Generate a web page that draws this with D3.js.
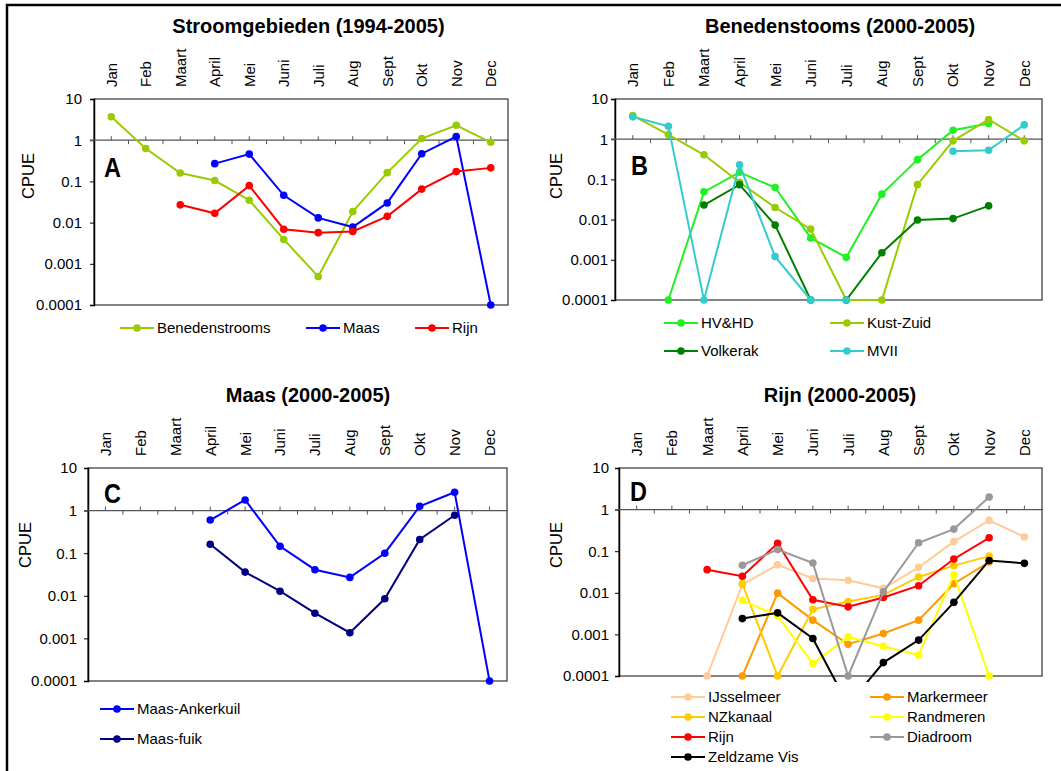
<!DOCTYPE html>
<html>
<head>
<meta charset="utf-8">
<script src="https://cdn.jsdelivr.net/npm/d3@7"></script>
<style>
  html, body { margin: 0; padding: 0; background: #fff; }
  svg { display: block; }
  text { font-family: "Liberation Sans", Arial, sans-serif; fill: #000; }
</style>
</head>
<body>
<svg id="chart" width="1061" height="771"></svg>
<script>
// ---------------- DATA ----------------
const months = ["Jan","Feb","Maart","April","Mei","Juni","Juli","Aug","Sept","Okt","Nov","Dec"];
const yTickValues = [0.0001, 0.001, 0.01, 0.1, 1, 10];
const yTickLabels = ["0.0001", "0.001", "0.01", "0.1", "1", "10"];

// Panel A: Stroomgebieden (1994-2005)
const benedenstroomsA = [3.7, 0.63, 0.16, 0.105, 0.035, 0.0039, 0.00049, 0.0185, 0.163, 1.1, 2.3, 0.89];
const maasA           = [null, null, null, 0.27, 0.46, 0.046, 0.013, 0.0078, 0.030, 0.47, 1.23, 0.0001];
const rijnA           = [null, null, 0.027, 0.0168, 0.079, 0.0069, 0.0057, 0.0061, 0.0142, 0.065, 0.173, 0.213];

// Panel B: Benedenstooms (2000-2005)
const hvhdB      = [null, 0.0001, 0.049, 0.15, 0.063, 0.0035, 0.00115, 0.043, 0.31, 1.67, 2.45, null];
const kustZuidB  = [3.85, 1.3, 0.41, 0.085, 0.02, 0.0058, 0.0001, 0.0001, 0.074, 0.91, 3.1, 0.91];
const volkerakB  = [null, null, 0.023, 0.074, 0.0073, 0.0001, 0.0001, 0.0015, 0.0098, 0.0106, 0.022, null];
const mviiB      = [3.6, 2.1, 0.0001, 0.23, 0.0012, 0.0001, 0.0001, null, null, 0.50, 0.53, 2.27];

// Panel C: Maas (2000-2005)
const ankerkuilC = [null, null, null, 0.60, 1.78, 0.145, 0.041, 0.027, 0.1, 1.26, 2.7, 0.0001];
const fuikC      = [null, null, null, 0.162, 0.036, 0.0128, 0.0039, 0.00136, 0.0085, 0.21, 0.78, null];

// Panel D: Rijn (2000-2005)
const ijsselmeerD = [null, null, 0.0001, 0.0158, 0.047, 0.022, 0.020, 0.0128, 0.041, 0.17, 0.55, 0.22];
const markermeerD = [null, null, null, 0.0001, 0.0098, 0.0022, 0.00058, 0.00105, 0.0022, 0.0165, 0.055, null];
const nzkanaalD   = [null, null, null, 0.0165, 0.0001, 0.004, 0.0062, 0.0089, 0.024, 0.045, 0.076, null];
const randmerenD  = [null, null, null, 0.0066, 0.0028, 0.0002, 0.00087, 0.00052, 0.00032, 0.027, 0.0001, null];
const rijnD       = [null, null, 0.036, 0.025, 0.155, 0.0068, 0.0046, 0.0077, 0.0148, 0.065, 0.21, null];
const diadroomD   = [null, null, null, 0.046, 0.11, 0.052, 0.0001, 0.0105, 0.16, 0.34, 2.0, null];
const zeldzameD   = [null, null, null, 0.0024, 0.0033, 0.0008, 0.00002, 0.00021, 0.00073, 0.0059, 0.06, 0.051];

// ---------------- LAYOUT ----------------
const panels = [
  { id: "A", title: "Stroomgebieden (1994-2005)", titleX: 308.5, x0: 94, x1: 508, y0: 99, y1: 305,
    cpueX: 28.5, tickLabelX: 82, letterX: 104, letterY: 177,
    series: [
      { name: "Benedenstrooms", values: benedenstroomsA, color: "#99CC00" },
      { name: "Maas", values: maasA, color: "#0000FF" },
      { name: "Rijn", values: rijnA, color: "#FF0000" }
    ],
    legend: [[120, 328], [306, 328], [415, 328]] },
  { id: "B", title: "Benedenstooms (2000-2005)", titleX: 840, x0: 615, x1: 1042, y0: 99, y1: 300,
    cpueX: 556.5, tickLabelX: 608, letterX: 631, letterY: 175,
    series: [
      { name: "HV&HD", values: hvhdB, color: "#22F022" },
      { name: "Kust-Zuid", values: kustZuidB, color: "#99CC00" },
      { name: "Volkerak", values: volkerakB, color: "#008000" },
      { name: "MVII", values: mviiB, color: "#33CCCC" }
    ],
    legend: [[664, 323], [830, 323], [664, 351], [830, 351]] },
  { id: "C", title: "Maas (2000-2005)", titleX: 308, x0: 88, x1: 507, y0: 468, y1: 681,
    cpueX: 25, tickLabelX: 77, letterX: 104, letterY: 503,
    series: [
      { name: "Maas-Ankerkuil", values: ankerkuilC, color: "#0000FF" },
      { name: "Maas-fuik", values: fuikC, color: "#000080" }
    ],
    legend: [[100, 709], [100, 739]] },
  { id: "D", title: "Rijn (2000-2005)", titleX: 840, x0: 619, x1: 1042, y0: 468, y1: 676,
    cpueX: 556.5, tickLabelX: 609, letterX: 630, letterY: 501,
    series: [
      { name: "IJsselmeer", values: ijsselmeerD, color: "#FFCC99" },
      { name: "Markermeer", values: markermeerD, color: "#FF9900" },
      { name: "NZkanaal", values: nzkanaalD, color: "#FFCC00" },
      { name: "Randmeren", values: randmerenD, color: "#FFFF00" },
      { name: "Rijn", values: rijnD, color: "#FF0000" },
      { name: "Diadroom", values: diadroomD, color: "#999999" },
      { name: "Zeldzame Vis", values: zeldzameD, color: "#000000" }
    ],
    legend: [[671, 697], [870, 697], [671, 717], [870, 717], [671, 737], [870, 737], [671, 757]] }
];

const svg = d3.select("#chart");

// outer frame (top + left edges visible)
svg.append("path")
  .attr("d", "M7,1000 L7,5 L1100,5")
  .attr("fill", "none").attr("stroke", "#000").attr("stroke-width", 2.5);

const defs = svg.append("defs");

panels.forEach((p, pi) => {
  const g = svg.append("g");
  const x = d3.scaleBand().domain(months).range([p.x0, p.x1]).padding(0);
  const bw = x.bandwidth();
  const cx = m => x(m) + bw / 2;
  const y = d3.scaleLog().domain([0.0001, 10]).range([p.y1, p.y0]);

  // title
  g.append("text")
    .attr("x", p.titleX).attr("y", p.y0 - 66)
    .attr("text-anchor", "middle")
    .style("font-weight", "bold").style("font-size", "20px")
    .text(p.title);

  // month labels (rotated)
  months.forEach(m => {
    g.append("text")
      .attr("transform", `translate(${cx(m)},${p.y0 - 12}) rotate(-90)`)
      .attr("dy", "0.36em")
      .attr("text-anchor", "start")
      .style("font-size", "15px")
      .text(m);
  });

  // plot frame
  g.append("rect")
    .attr("x", p.x0).attr("y", p.y0)
    .attr("width", p.x1 - p.x0).attr("height", p.y1 - p.y0)
    .attr("fill", "none").attr("stroke", "#333").attr("stroke-width", 1.2);

  // y axis
  const yAxis = d3.axisLeft(y).tickValues(yTickValues)
    .tickFormat((d, i) => yTickLabels[i]).tickSize(4).tickPadding(p.x0 - 4 - p.tickLabelX);
  const ya = g.append("g").attr("transform", `translate(${p.x0},0)`).call(yAxis);
  ya.select(".domain").attr("stroke", "#000").attr("stroke-width", 1.5);
  ya.selectAll(".tick line").attr("stroke", "#000");
  ya.selectAll(".tick text").style("font-size", "15px").style("font-family", "'Liberation Sans', Arial, sans-serif").attr("fill", "#000");

  // horizontal category axis crossing at 1
  const y1v = y(1);
  g.append("line")
    .attr("x1", p.x0 - 4).attr("x2", p.x1 + 1)
    .attr("y1", y1v).attr("y2", y1v)
    .attr("stroke", "#555").attr("stroke-width", 1.3);
  // tick marks: centers above, boundaries below
  months.forEach((m, i) => {
    g.append("line").attr("x1", cx(m)).attr("x2", cx(m))
      .attr("y1", y1v - 4).attr("y2", y1v).attr("stroke", "#555");
    if (i > 0) {
      g.append("line").attr("x1", x(m)).attr("x2", x(m))
        .attr("y1", y1v).attr("y2", y1v + 4).attr("stroke", "#555");
    }
  });

  // panel letter (narrow bold)
  g.append("text")
    .attr("transform", `translate(${p.letterX},${p.letterY}) scale(0.84,1)`)
    .style("font-weight", "bold").style("font-size", "28px")
    .text(p.id);

  // CPUE label
  g.append("text")
    .attr("transform", `translate(${p.cpueX},${p.y0 + 77}) rotate(-90)`)
    .attr("dy", "0.36em").attr("text-anchor", "middle")
    .style("font-size", "16.5px")
    .text("CPUE");

  // clip region (lines that dive below the minimum are cut a few px below the frame)
  const clipId = "clip" + pi;
  defs.append("clipPath").attr("id", clipId).append("rect")
    .attr("x", p.x0 - 10).attr("y", p.y0 - 10)
    .attr("width", p.x1 - p.x0 + 20).attr("height", p.y1 - p.y0 + 16);

  const plot = g.append("g").attr("clip-path", `url(#${clipId})`);
  const line = d3.line()
    .defined(d => d.v !== null)
    .x(d => cx(d.m)).y(d => y(d.v));

  p.series.forEach(s => {
    const pts = months.map((m, i) => ({ m, v: s.values[i] }));
    plot.append("path").datum(pts)
      .attr("d", line)
      .attr("fill", "none").attr("stroke", s.color).attr("stroke-width", 2);
    plot.selectAll(null).data(pts.filter(d => d.v !== null && d.v >= 0.0001))
      .enter().append("circle")
      .attr("cx", d => cx(d.m)).attr("cy", d => y(d.v))
      .attr("r", 3.8).attr("fill", s.color);
  });

  // legend
  p.series.forEach((s, i) => {
    const [lx, ly] = p.legend[i];
    const lg = g.append("g");
    lg.append("line").attr("x1", lx).attr("x2", lx + 34).attr("y1", ly).attr("y2", ly)
      .attr("stroke", s.color).attr("stroke-width", 2);
    lg.append("circle").attr("cx", lx + 17).attr("cy", ly).attr("r", 3.8).attr("fill", s.color);
    lg.append("text").attr("x", lx + 37).attr("y", ly).attr("dy", "0.36em")
      .style("font-size", "15px").text(s.name);
  });
});
</script>
</body>
</html>
